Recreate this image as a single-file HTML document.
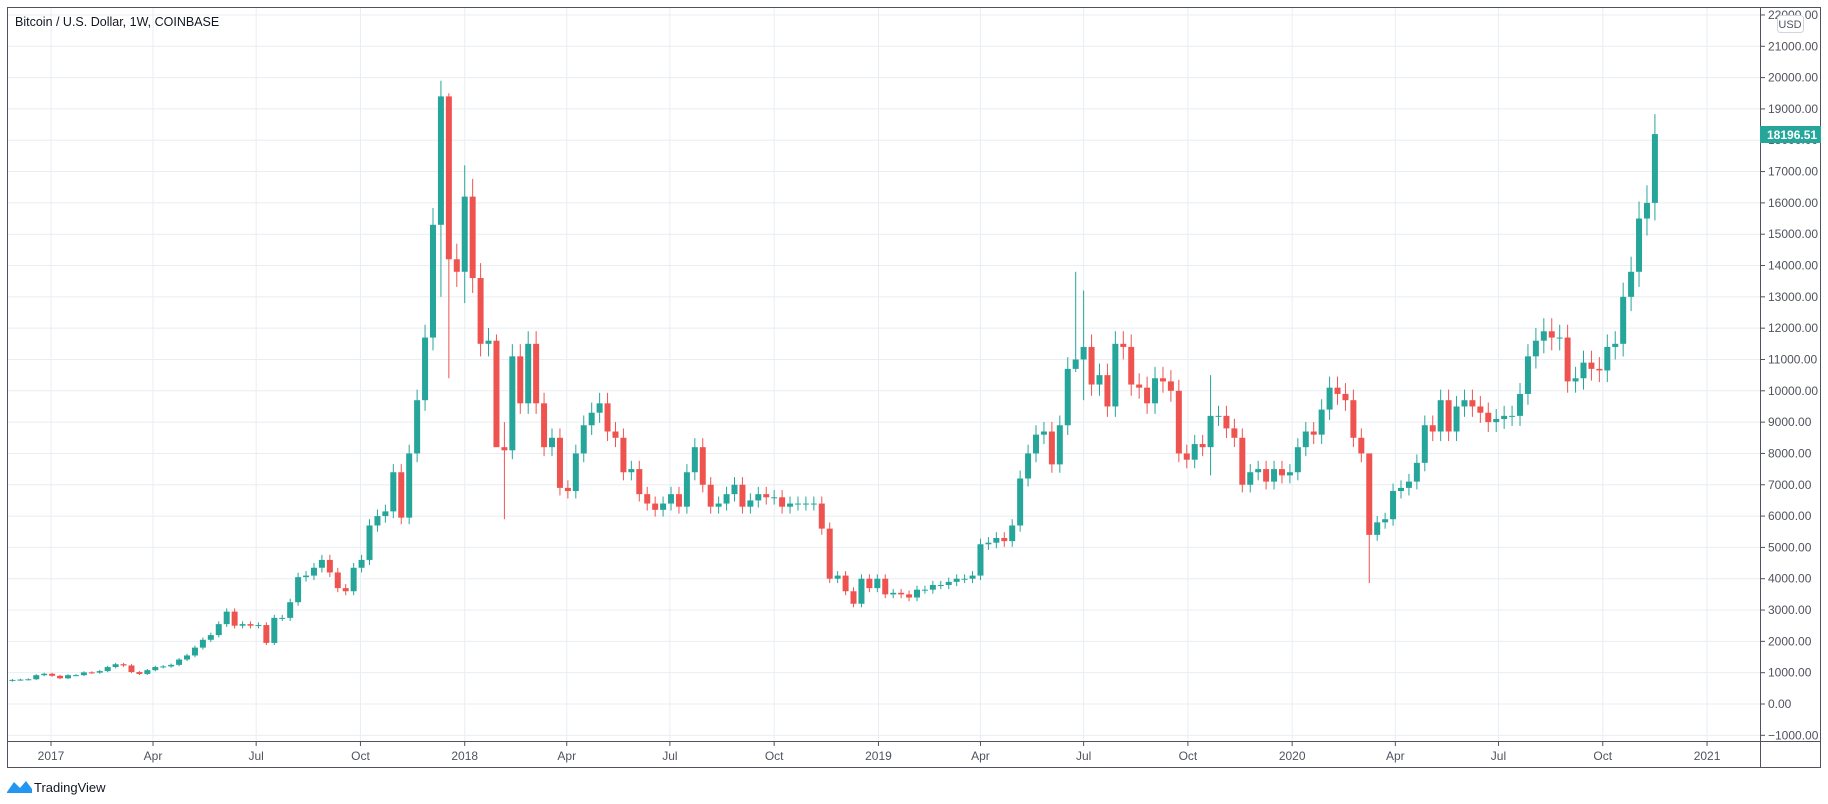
<!DOCTYPE html>
<html><head><meta charset="utf-8"><style>
html,body{margin:0;padding:0;background:#fff;width:1828px;height:804px;overflow:hidden;font-family:"Liberation Sans",sans-serif}
</style></head><body>
<svg id="s" width="1828" height="804" xmlns="http://www.w3.org/2000/svg" style="position:absolute;left:0;top:0"></svg>
<script>
const s=document.getElementById('s');
let h='';
const Y=p=>704-p*0.03132;
const t0=Date.UTC(2017,0,1);
const X=d=>51+((d-t0)/86400000)*1.1335;
for(let p=-1000;p<=22000;p+=1000){const y=Y(p);h+=`<line x1="7" x2="1760" y1="${y}" y2="${y}" stroke="#e8eef3" stroke-width="1"/>`;
h+=`<line x1="1760" x2="1765" y1="${y}" y2="${y}" stroke="#50535e"/>`;
h+=`<text x="1768" y="${y+4}" font-size="12" fill="#50535e">${p===0?'0.00':(p<0?'−1000.00':p+'.00')}</text>`;}
const ticks=[[2017,0,'2017'],[2017,3,'Apr'],[2017,6,'Jul'],[2017,9,'Oct'],[2018,0,'2018'],[2018,3,'Apr'],[2018,6,'Jul'],[2018,9,'Oct'],[2019,0,'2019'],[2019,3,'Apr'],[2019,6,'Jul'],[2019,9,'Oct'],[2020,0,'2020'],[2020,3,'Apr'],[2020,6,'Jul'],[2020,9,'Oct'],[2021,0,'2021']];
for(const [yy,m,l] of ticks){const x=X(Date.UTC(yy,m,1));h+=`<line x1="${x}" x2="${x}" y1="7" y2="741" stroke="#e8eef3"/><line x1="${x}" x2="${x}" y1="741" y2="746" stroke="#50535e"/><text x="${x}" y="760" font-size="12" fill="#50535e" text-anchor="middle">${l}</text>`;}
const c=[770,780,790,920,965,900,820,920,920,1010,1000,1050,1180,1270,1230,1020,960,1080,1180,1200,1250,1420,1550,1800,2050,2200,2550,2950,2500,2550,2500,2520,1950,2750,2750,3250,4050,4100,4350,4600,4200,3700,3600,4350,4600,5700,6000,6150,7400,5950,8000,9700,11700,15300,19400,14200,13800,16200,13600,11500,11600,8200,8100,11100,9600,11500,9600,8200,8500,6900,6800,8000,8900,9300,9600,8700,8500,7400,7500,6700,6400,6200,6400,6700,6300,7400,8200,7000,6300,6400,6700,7000,6300,6500,6700,6600,6600,6300,6400,6400,6400,6400,5600,4000,4100,3600,3200,4000,3700,4000,3500,3550,3500,3400,3650,3650,3800,3800,3900,4000,4000,4100,5100,5150,5300,5200,5700,7200,8000,8600,8700,7650,8900,10700,11000,11400,10200,10500,9500,11500,11400,10200,10100,9600,10400,10300,10000,8000,7800,8300,8200,9200,9200,8800,8500,7000,7400,7500,7100,7500,7300,7400,8200,8700,8600,9400,10100,9900,9700,8500,8000,5400,5800,5900,6800,6900,7100,7700,8900,8700,9700,8700,9500,9700,9500,9300,9000,9100,9200,9200,9900,11100,11600,11900,11700,11700,10300,10400,10900,10700,10650,11400,11500,13000,13800,15500,16000,18196.51];
const start=Date.UTC(2016,10,28);
const spec={54:[19900,13000],55:[19500,10400],57:[17200,12800],61:[11800,9000],62:[9000,5900],134:[13800,10600],135:[13200,9700],151:[10500,7300],171:[8000,3860]};
let prev=740;
for(let i=0;i<c.length;i++){const o=prev,cl=c[i];prev=cl;
const x=X(start+i*7*86400000);const up=cl>=o;const col=up?'#26a69a':'#ef5350';
let hi=Math.max(o,cl)*1.035,lo=Math.min(o,cl)*0.965;if(spec[i]){hi=spec[i][0];lo=spec[i][1];}
const yt=Y(Math.max(o,cl)),yb=Y(Math.min(o,cl));
h+=`<line x1="${x}" x2="${x}" y1="${Y(hi)}" y2="${Y(lo)}" stroke="${col}" stroke-width="1"/>`;
h+=`<rect x="${x-3}" y="${yt}" width="6" height="${Math.max(1,yb-yt)}" fill="${col}"/>`;}
h+=`<rect x="7.5" y="7.5" width="1813" height="760" fill="none" stroke="#50535e"/>`;
h+=`<line x1="1760.5" x2="1760.5" y1="7" y2="768" stroke="#50535e"/><line x1="7" x2="1821" y1="741.5" y2="741.5" stroke="#50535e"/>`;
h+=`<rect x="1760" y="126" width="61" height="17" fill="#26a69a"/><text x="1767" y="139" font-size="12" font-weight="bold" fill="#fff">18196.51</text>`;
h+=`<rect x="1777.5" y="15.5" width="26" height="17" rx="3" fill="#fff" stroke="#d1d4dc"/><text x="1790" y="28" font-size="11" fill="#50535e" text-anchor="middle">USD</text>`;
h+=`<text x="15" y="26" font-size="12.5" fill="#131722">Bitcoin / U.S. Dollar, 1W, COINBASE</text>`;
h+=`<path d="M7,792 L14,782 L20,788 L26,781 L32,789 L32,793 L7,793Z" fill="#2196f3"/><text x="34" y="792" font-size="13" fill="#131722">TradingView</text>`;
s.innerHTML=h;
</script>
</body></html>
